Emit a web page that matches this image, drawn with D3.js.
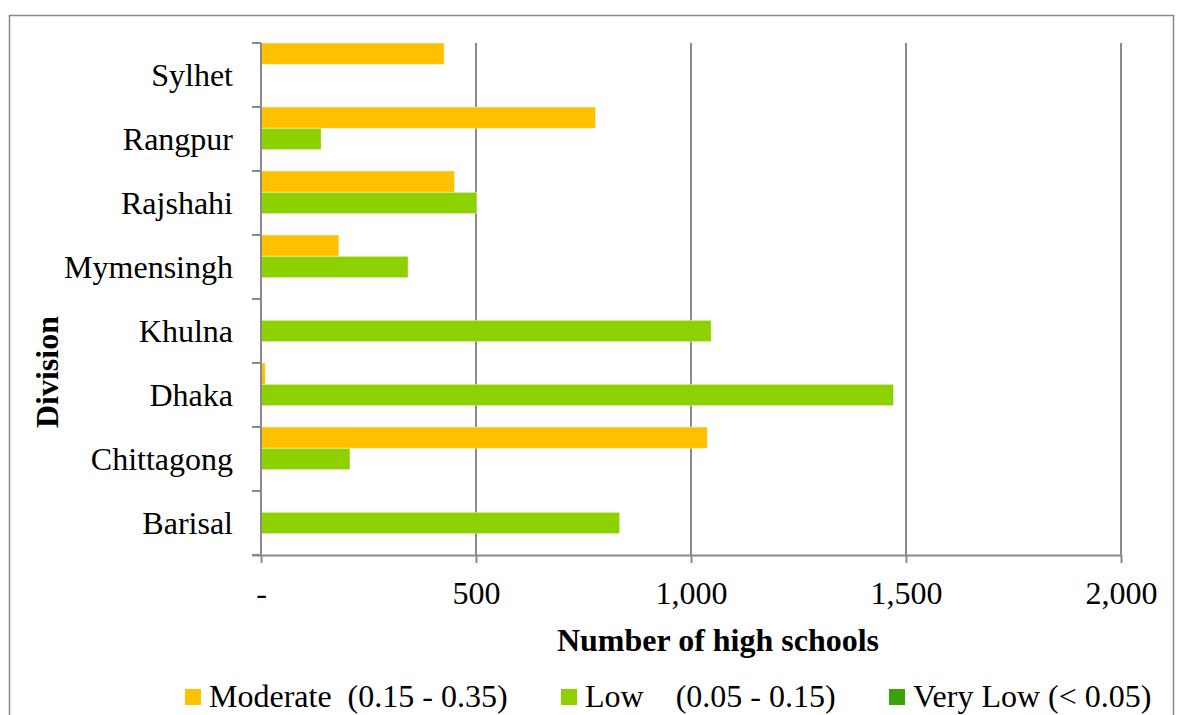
<!DOCTYPE html>
<html>
<head>
<meta charset="utf-8">
<script src="https://cdn.jsdelivr.net/npm/d3@7"></script>
<style>
  html, body { margin: 0; padding: 0; background: #fff; }
  svg { display: block; font-family: "Liberation Serif", "Times New Roman", serif; }
  text { white-space: pre; }
</style>
</head>
<body>
<svg id="chart" width="1184" height="715"></svg>
<script>
// Divisions, listed top to bottom
const divisions = ["Sylhet", "Rangpur", "Rajshahi", "Mymensingh", "Khulna", "Dhaka", "Chittagong", "Barisal"];
// Number of high schools per vulnerability class
const moderate = [426, 778, 450, 181, 0, 10, 1038, 0];
const low      = [0, 140, 502, 342, 1047, 1471, 207, 834];
const veryLow  = [0, 0, 0, 0, 0, 0, 0, 0];
const seriesNames  = ["Moderate  (0.15 - 0.35)", "Low    (0.05 - 0.15)", "Very Low (< 0.05)"];
const seriesColors = ["#ffc000", "#8dd100", "#3aa30a"];
const xTicks = [0, 500, 1000, 1500, 2000];

const series = [moderate, low, veryLow];
const svg = d3.select("#chart");

const plot = { left: 261, right: 1121, top: 43, bottom: 555 };
const axisColor = "#898989";

// Outer chart frame
svg.append("path")
  .attr("d", "M9.5,730 V15.5 H1173.5 V730")
  .attr("fill", "none").attr("stroke", axisColor).attr("stroke-width", 1.5);

const x = d3.scaleLinear().domain([0, 2000]).range([plot.left, plot.right]);
const y = d3.scaleBand().domain(divisions).range([plot.top, plot.bottom]).padding(0);
const ySub = d3.scaleBand().domain(d3.range(series.length)).range([0, y.bandwidth()]).padding(0);

// Vertical gridlines
svg.append("g").selectAll("line")
  .data(xTicks.slice(1))
  .join("line")
  .attr("x1", d => x(d)).attr("x2", d => x(d))
  .attr("y1", plot.top).attr("y2", plot.bottom)
  .attr("stroke", axisColor).attr("stroke-width", 2);

// Bars
const groups = svg.append("g").selectAll("g")
  .data(divisions)
  .join("g")
  .attr("transform", d => `translate(0,${y(d)})`);

groups.selectAll("rect")
  .data((d, i) => series.map((s, k) => ({ k, v: s[i] })))
  .join("rect")
  .attr("x", x(0))
  .attr("y", d => ySub(d.k))
  .attr("width", d => x(d.v) - x(0))
  .attr("height", ySub.bandwidth())
  .attr("fill", d => seriesColors[d.k])
  .attr("stroke", "rgba(255,255,255,0.45)")
  .attr("stroke-width", 1);

// X axis
const xAxis = svg.append("g")
  .attr("transform", `translate(0,${plot.bottom})`)
  .call(d3.axisBottom(x).tickValues(xTicks).tickSizeInner(8).tickSizeOuter(0).tickPadding(18)
    .tickFormat(d => d === 0 ? "-" : d3.format(",")(d)));
xAxis.select(".domain").attr("stroke", axisColor).attr("stroke-width", 2)
  .attr("d", `M${plot.left - 9},0.5H${plot.right}`);
xAxis.selectAll(".tick line").attr("stroke", axisColor).attr("stroke-width", 2);
xAxis.selectAll(".tick text")
  .attr("font-family", "Liberation Serif, Times New Roman, serif")
  .attr("font-size", 32).attr("fill", "#000");

// Y axis with ticks at band boundaries
const yAxisG = svg.append("g");
yAxisG.append("line")
  .attr("x1", plot.left).attr("x2", plot.left)
  .attr("y1", plot.top).attr("y2", plot.bottom)
  .attr("stroke", axisColor).attr("stroke-width", 2);
const boundaries = divisions.map(d => y(d)).concat([plot.bottom]);
yAxisG.selectAll("line.tick")
  .data(boundaries)
  .join("line").attr("class", "tick")
  .attr("x1", plot.left - 9).attr("x2", plot.left)
  .attr("y1", d => d).attr("y2", d => d)
  .attr("stroke", axisColor).attr("stroke-width", 2);
yAxisG.selectAll("text")
  .data(divisions)
  .join("text")
  .attr("x", 233)
  .attr("y", d => y(d) + y.bandwidth() / 2)
  .attr("dy", "0.35em")
  .attr("text-anchor", "end")
  .attr("font-size", 32)
  .text(d => d);

// Axis titles
svg.append("text")
  .attr("x", (plot.left + plot.right) / 2 + 27).attr("y", 651)
  .attr("text-anchor", "middle").attr("font-size", 32).attr("font-weight", "bold")
  .text("Number of high schools");
svg.append("text")
  .attr("transform", "translate(58,372) rotate(-90)")
  .attr("text-anchor", "middle").attr("font-size", 32).attr("font-weight", "bold")
  .text("Division");

// Legend
const legendX = [185, 561, 889];
const legend = svg.append("g").selectAll("g")
  .data(seriesNames)
  .join("g")
  .attr("transform", (d, i) => `translate(${legendX[i]},0)`);
legend.append("rect")
  .attr("x", 0).attr("y", 689).attr("width", 16).attr("height", 16)
  .attr("fill", (d, i) => seriesColors[i]);
legend.append("text")
  .attr("x", 24).attr("y", 707)
  .attr("font-size", 32)
  .text(d => d);
</script>
</body>
</html>
